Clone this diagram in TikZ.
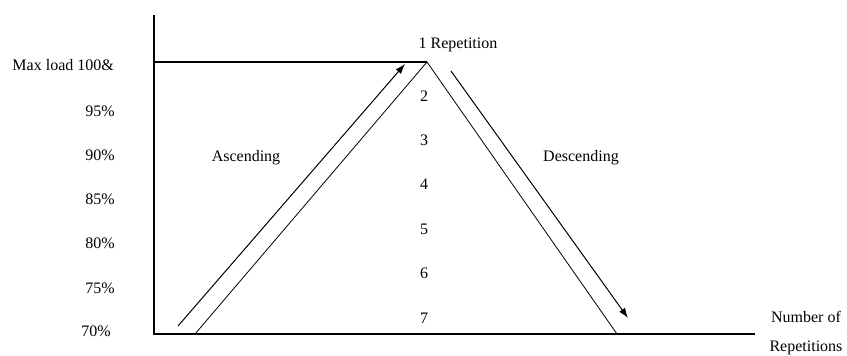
\documentclass[tikz,border=0pt]{standalone}
\usepackage{fontspec}
\setmainfont{Liberation Serif}
\usetikzlibrary{arrows.meta}

\begin{document}
\begin{tikzpicture}[
    x=1pt, y=-1pt,
    axis/.style={draw, line width=1.1pt},
    ramp/.style={draw, line width=0.8pt},
    flow/.style={draw, line width=1pt, -{Latex[length=10pt, width=7pt]}},
    loadlabel/.style={anchor=east, inner sep=0pt, font=\fontsize{16}{19}\selectfont},
    replabel/.style={inner sep=0pt, font=\fontsize{16}{19}\selectfont},
    phase/.style={inner sep=0pt, font=\fontsize{16}{19}\selectfont}
]
    \useasboundingbox (0,0) rectangle (847,356);

    % axes
    \coordinate (top) at (154,15);
    \coordinate (origin) at (154,334);
    \coordinate (xend) at (755,334);
    \coordinate (maxleft) at (154,62);
    \coordinate (peak) at (427,62);
    \coordinate (rampstart) at (195,334);
    \coordinate (rampend) at (617,334);
    \draw[axis] (top) -- (origin) -- (xend);
    \draw[axis] (maxleft) -- (peak);

    % load triangle
    \draw[ramp] (rampstart) -- (peak) -- (rampend);

    % direction arrows
    \coordinate (upfrom) at (178,326);
    \coordinate (upto) at (405,64);
    \coordinate (downfrom) at (451,71);
    \coordinate (downto) at (628,318);
    \draw[flow] (upfrom) -- (upto);
    \draw[flow] (downfrom) -- (downto);

    % load levels
    \node[loadlabel] (max) at (114,65) {Max load 100\&};
    \node[loadlabel] (l95) at (115,111) {95\%};
    \node[loadlabel] (l90) at (115,155) {90\%};
    \node[loadlabel] (l85) at (115,199) {85\%};
    \node[loadlabel] (l80) at (115,243) {80\%};
    \node[loadlabel] (l75) at (115,288) {75\%};
    \node[loadlabel] (l70) at (111,331) {70\%};

    % repetitions
    \node[replabel] (r1) at (458,45) {1 Repetition};
    \node[replabel] (r2) at (424,96) {2};
    \node[replabel] (r3) at (424,140) {3};
    \node[replabel] (r4) at (424,184) {4};
    \node[replabel] (r5) at (424,229) {5};
    \node[replabel] (r6) at (424,273) {6};
    \node[replabel] (r7) at (424,318) {7};

    \node[phase] (asc) at (246,158) {Ascending};
    \node[phase] (desc) at (581,158) {Descending};

    \node[phase] (numof) at (806,317) {Number of};
    \node[phase] (reps) at (806,348) {Repetitions};
\end{tikzpicture}
\end{document}
